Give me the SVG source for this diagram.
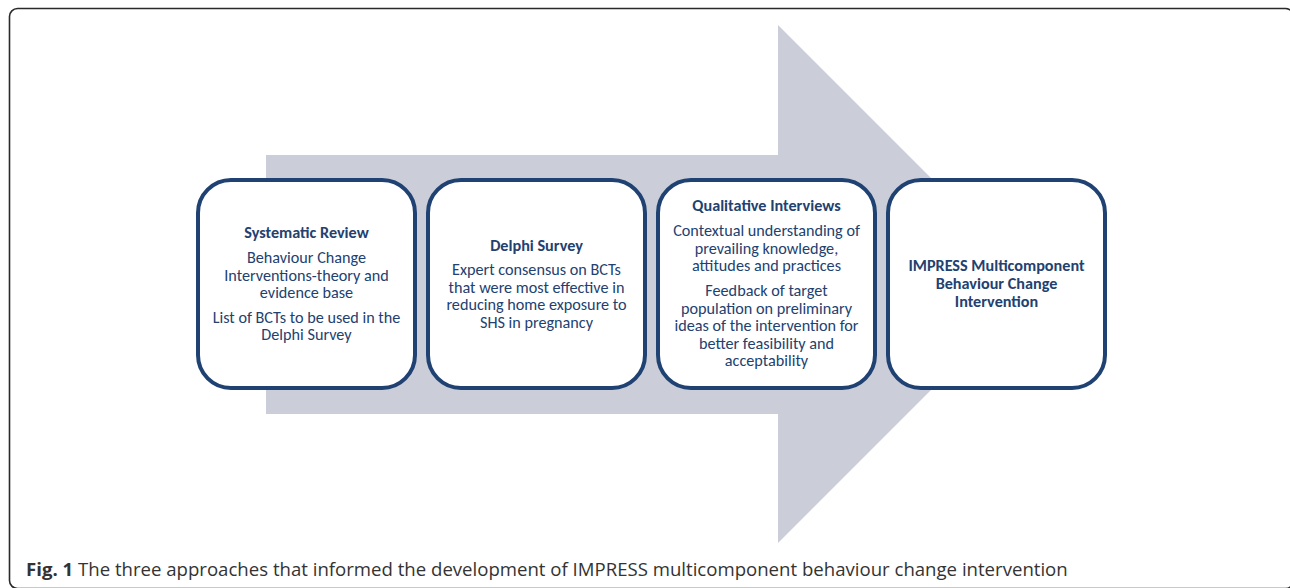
<svg xmlns="http://www.w3.org/2000/svg" width="1290" height="588" viewBox="0 0 1290 588">
<style>
.frame{fill:#ffffff;stroke:#2a2a2a;stroke-width:1.6}
.arrow{fill:#cbced8}
.box{fill:#ffffff;stroke:#1f4273;stroke-width:4}
.t{font-family:Carlito,Lato,"Liberation Sans",sans-serif;font-size:16.2px;fill:#23416f;text-anchor:middle}
.b{font-weight:bold}
.cap{font-family:"Open Sans","Liberation Sans",sans-serif;font-size:18.6px;fill:#333333}
</style>
<rect class="frame" x="9.5" y="8.5" width="1284" height="580" rx="8"/>
<g id="connectors">
<polygon class="arrow" points="266,155 778,155 778,25 1037,284 778,543 778,414 266,414"/>
</g>
<g id="node-systematic-review">
<rect class="box" x="198" y="180" width="217" height="208" rx="33"/>
<text class="t b" x="306.5" y="238">Systematic Review</text>
<text class="t" x="306.5" y="263">Behaviour Change</text>
<text class="t" x="306.5" y="280.5">Interventions-theory and</text>
<text class="t" x="306.5" y="298">evidence base</text>
<text class="t" x="306.5" y="322.5">List of BCTs to be used in the</text>
<text class="t" x="306.5" y="340">Delphi Survey</text>
</g>
<g id="node-delphi-survey">
<rect class="box" x="428" y="180" width="217" height="208" rx="33"/>
<text class="t b" x="536.5" y="251">Delphi Survey</text>
<text class="t" x="536.5" y="275">Expert consensus on BCTs</text>
<text class="t" x="536.5" y="292.5">that were most effective in</text>
<text class="t" x="536.5" y="310">reducing home exposure to</text>
<text class="t" x="536.5" y="327.5">SHS in pregnancy</text>
</g>
<g id="node-qualitative-interviews">
<rect class="box" x="658" y="180" width="217" height="208" rx="33"/>
<text class="t b" x="766.5" y="211">Qualitative Interviews</text>
<text class="t" x="766.5" y="236">Contextual understanding of</text>
<text class="t" x="766.5" y="253.5">prevailing knowledge,</text>
<text class="t" x="766.5" y="271">attitudes and practices</text>
<text class="t" x="766.5" y="296">Feedback of target</text>
<text class="t" x="766.5" y="313.5">population on preliminary</text>
<text class="t" x="766.5" y="331">ideas of the intervention for</text>
<text class="t" x="766.5" y="348.5">better feasibility and</text>
<text class="t" x="766.5" y="366">acceptability</text>
</g>
<g id="node-impress">
<rect class="box" x="888" y="180" width="217" height="208" rx="33"/>
<text class="t b" x="996.5" y="271">IMPRESS Multicomponent</text>
<text class="t b" x="996.5" y="289">Behaviour Change</text>
<text class="t b" x="996.5" y="306.5">Intervention</text>
</g>
<text class="cap" x="26" y="575.5"><tspan font-weight="bold">Fig. 1</tspan> The three approaches that informed the development of IMPRESS multicomponent behaviour change intervention</text>
</svg>
